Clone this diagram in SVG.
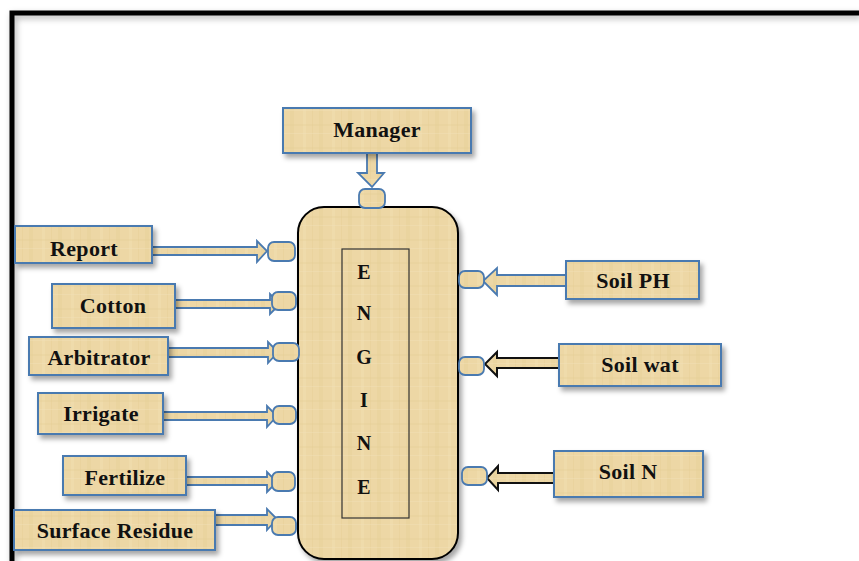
<svg xmlns="http://www.w3.org/2000/svg" width="859" height="561" viewBox="0 0 859 561">
<style>
.box{fill:url(#pap);stroke:#4a7ab0;stroke-width:2;filter:url(#sh)}
.port{fill:url(#pap);stroke:#4a7ab0;stroke-width:1.8}
.arr{fill:url(#pap);stroke:#4a7ab0;stroke-width:1.8;stroke-linejoin:miter}
.arrk{fill:url(#pap);stroke:#111;stroke-width:2}
.t{font-family:"Liberation Serif","Times New Roman",serif;font-weight:bold;font-size:22px;fill:#111;text-anchor:middle;letter-spacing:0.3px}
.e{font-family:"Liberation Serif","Times New Roman",serif;font-weight:bold;font-size:20px;fill:#111;text-anchor:middle}
</style>
<defs>
<pattern id="pap" patternUnits="userSpaceOnUse" width="29" height="23">
<rect width="29" height="23" fill="#edd7a5"/>
<rect x="0" y="0" width="4" height="23" fill="#e8d098" opacity="0.45"/>
<rect x="13" y="0" width="3" height="23" fill="#f2dfb2" opacity="0.5"/>
<rect x="22" y="0" width="1" height="23" fill="#e4cb92" opacity="0.35"/>
<rect x="0" y="9" width="29" height="2" fill="#e6ce96" opacity="0.3"/>
<rect x="0" y="18" width="29" height="1" fill="#f3e2b8" opacity="0.4"/>
</pattern>
<filter id="sh" x="-10%" y="-10%" width="125%" height="140%">
<feDropShadow dx="3" dy="4" stdDeviation="2.5" flood-color="#000" flood-opacity="0.35"/>
</filter>
<filter id="fsh" x="-5%" y="-5%" width="110%" height="110%">
<feDropShadow dx="2" dy="3" stdDeviation="3" flood-color="#000" flood-opacity="0.3"/>
</filter>
</defs>
<rect width="859" height="561" fill="#fff"/>
<g id="frame">
<path d="M12 561 V13 H859" fill="none" stroke="#000" stroke-width="5" filter="url(#fsh)"/>
</g>
<g id="connectors">
<polygon class="arr" points="367,153 377,153 377,173 384,173 372,187 358,173 367,173"/>
<polygon class="arr" points="152,247 257,247 257,241 267,251 257,262 257,255 152,255"/>
<polygon class="arr" points="175,300 270,300 270,294 280,304 270,314 270,308 175,308"/>
<polygon class="arr" points="168,348 268,348 268,342 278,352 268,363 268,357 168,357"/>
<polygon class="arr" points="163,412 267,412 267,406 277,416 267,427 267,420 163,420"/>
<polygon class="arr" points="186,477 267,477 267,472 277,482 267,492 267,485 186,485"/>
<polygon class="arr" points="215,515 267,515 267,509 277,519 267,530 267,525 215,525"/>
<polygon class="arr" points="566,275 497,275 497,268 483,281 497,295 497,286 566,286"/>
<polygon class="arrk" points="559,358 497,358 497,352 485,364 497,376 497,368 559,368"/>
<polygon class="arrk" points="554,473 498,473 498,466 487,478 498,490 498,483 554,483"/>
</g>
<g id="engine">
<rect x="298" y="207" width="160" height="352" rx="26" fill="url(#pap)" stroke="#000" stroke-width="2" filter="url(#sh)"/>
<rect x="342" y="249" width="67" height="269" fill="none" stroke="#333" stroke-width="1.2"/>
<text class="e" x="364" y="279">E</text>
<text class="e" x="364" y="320">N</text>
<text class="e" x="364" y="364">G</text>
<text class="e" x="364" y="407">I</text>
<text class="e" x="364" y="450">N</text>
<text class="e" x="364" y="494">E</text>
</g>
<g id="ports">
<rect class="port" x="359" y="189" width="26" height="19" rx="6"/>
<rect class="port" x="268" y="242" width="27" height="19" rx="6"/>
<rect class="port" x="272" y="292" width="24" height="18" rx="6"/>
<rect class="port" x="273" y="343" width="26" height="18" rx="6"/>
<rect class="port" x="273" y="406" width="23" height="18" rx="6"/>
<rect class="port" x="272" y="472" width="23" height="19" rx="6"/>
<rect class="port" x="272" y="517" width="24" height="18" rx="6"/>
<rect class="port" x="459" y="271" width="25" height="17" rx="6"/>
<rect class="port" x="459" y="357" width="25" height="18" rx="6"/>
<rect class="port" x="462" y="467" width="25" height="18" rx="6"/>
</g>
<g id="manager"><rect class="box" x="283" y="108" width="188" height="45"/><text class="t" x="377" y="137">Manager</text></g>
<g id="report"><rect class="box" x="15" y="226" width="137" height="37"/><text class="t" x="84" y="256">Report</text></g>
<g id="cotton"><rect class="box" x="52" y="284" width="123" height="44"/><text class="t" x="113" y="313">Cotton</text></g>
<g id="arbitrator"><rect class="box" x="29" y="337" width="139" height="38"/><text class="t" x="99" y="365">Arbitrator</text></g>
<g id="irrigate"><rect class="box" x="38" y="393" width="125" height="41"/><text class="t" x="101" y="421">Irrigate</text></g>
<g id="fertilize"><rect class="box" x="63" y="456" width="123" height="39"/><text class="t" x="125" y="485">Fertilize</text></g>
<g id="surface-residue"><rect class="box" x="14" y="510" width="201" height="40"/><text class="t" x="115" y="538">Surface Residue</text></g>
<g id="soil-ph"><rect class="box" x="566" y="261" width="133" height="38"/><text class="t" x="633" y="288">Soil PH</text></g>
<g id="soil-wat"><rect class="box" x="559" y="344" width="162" height="42"/><text class="t" x="640" y="372">Soil wat</text></g>
<g id="soil-n"><rect class="box" x="554" y="451" width="149" height="46"/><text class="t" x="628" y="479">Soil N</text></g>
</svg>
